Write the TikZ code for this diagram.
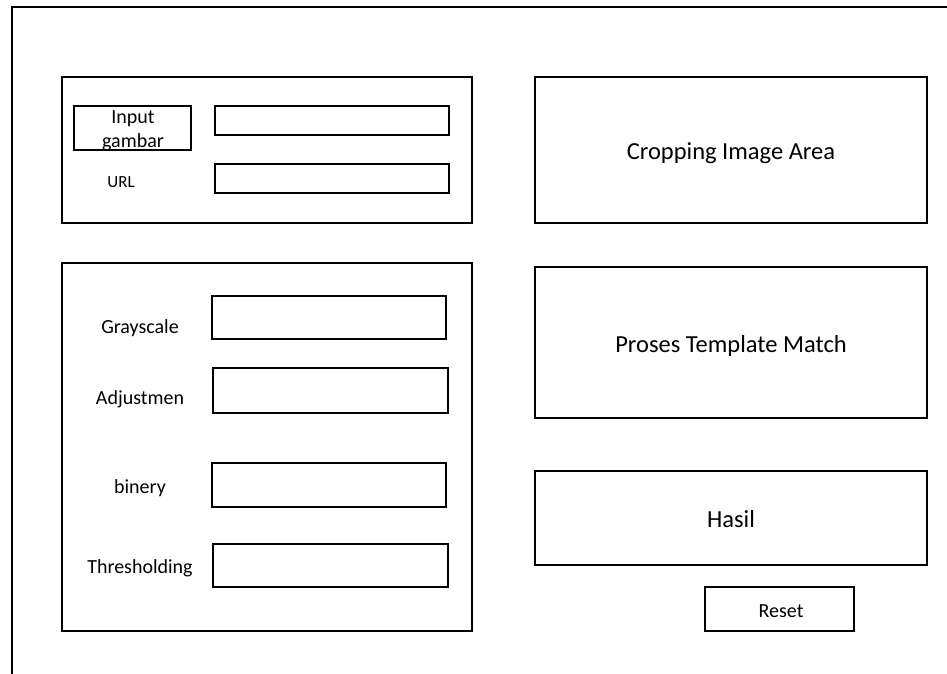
\documentclass[tikz,border=0pt]{standalone}
\usepackage{fontspec}
\setmainfont{Carlito}
\begin{document}
\begin{tikzpicture}[x=1pt,y=-1pt,
  box/.style={draw=black, line width=1.2pt, rectangle, inner sep=0pt, outer sep=0pt},
  big/.style={font=\fontsize{24.5}{28}\selectfont, text depth=0pt, yshift=-1pt},
  small/.style={font=\fontsize{20}{24}\selectfont},
  tiny/.style={font=\fontsize{17}{20}\selectfont},
  lbl/.style={inner sep=0pt}]
\useasboundingbox (0,0) rectangle (947,674);
% outer frame
\coordinate (ftr) at (947,7);
\coordinate (ftl) at (12,7);
\coordinate (fbl) at (12,674);
\draw[line width=1.2pt] (ftr) -- (ftl) -- (fbl);
% panel 1
\node[box, minimum width=410pt, minimum height=146pt] (p1) at (267,150) {};
\node[box, minimum width=117pt, minimum height=44pt] (inbox) at (132.5,128) {};
\node[lbl, small, align=center] (intext) at (133,131) {Input\\gambar};
\node[box, minimum width=234pt, minimum height=29pt] (f1) at (332,120.5) {};
\node[box, minimum width=234pt, minimum height=29pt] (f2) at (332,178.5) {};
\node[lbl, tiny] (url) at (121,182) {URL};
% panel 2
\node[box, minimum width=410pt, minimum height=368pt] (p2) at (267,447) {};
\node[box, minimum width=234pt, minimum height=43pt] (fg) at (329,317.5) {};
\node[box, minimum width=235pt, minimum height=45pt] (fa) at (330.5,390.5) {};
\node[box, minimum width=234pt, minimum height=44pt] (fb) at (329,485) {};
\node[box, minimum width=235pt, minimum height=43pt] (ft) at (330.5,565.5) {};
\node[lbl, small] (lg) at (140,328.5) {Grayscale};
\node[lbl, small] (la) at (140,399.5) {Adjustmen};
\node[lbl, small] (lb) at (140,488.5) {binery};
\node[lbl, small] (lt) at (140,568.5) {Thresholding};
% right column
\node[box, minimum width=392pt, minimum height=146pt] (crop) at (731,150) {};
\node[lbl, big] (tcrop) at (crop.center) {Cropping Image Area};
\node[box, minimum width=392pt, minimum height=151pt] (proses) at (731,342.5) {};
\node[lbl, big] (tproses) at (proses.center) {Proses Template Match};
\node[box, minimum width=392pt, minimum height=94pt] (hasil) at (731,518) {};
\node[lbl, big] (thasil) at (hasil.center) {Hasil};
\node[box, small, minimum width=149pt, minimum height=44pt] (reset) at (779.5,609) {};
\node[lbl, small] (treset) at (781,611) {Reset};
\end{tikzpicture}
\end{document}
